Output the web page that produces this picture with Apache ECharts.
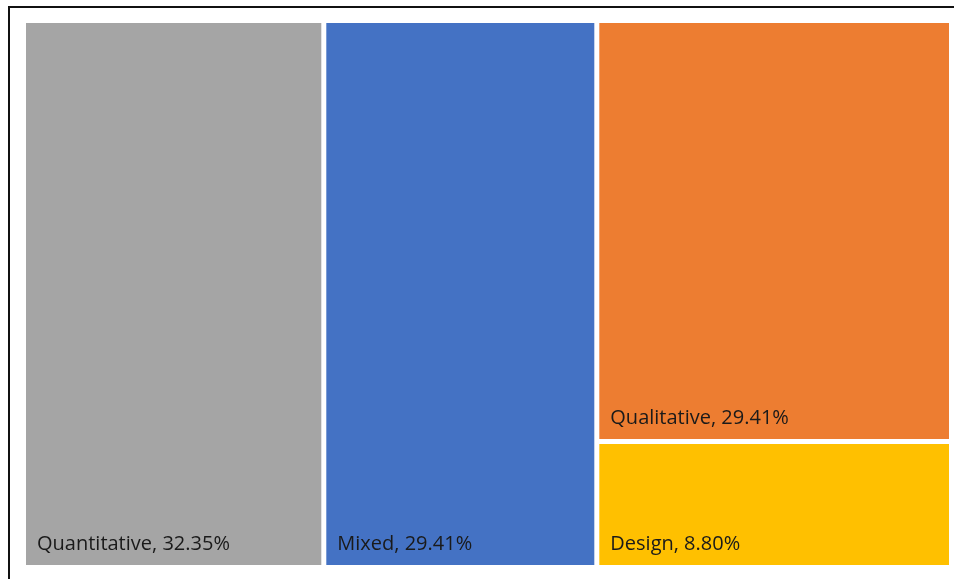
<!DOCTYPE html>
<html>
<head>
<meta charset="utf-8">
<script src="https://cdn.jsdelivr.net/npm/echarts@6/dist/echarts.min.js"></script>
<style>
  html, body { margin: 0; padding: 0; background: #fff; overflow: hidden; }
  #frame { position: absolute; left: 8px; top: 6px; width: 1000px; height: 640px; border-left: 2px solid #111; border-top: 2px solid #111; }
  #chart { position: absolute; left: 0; top: 0; width: 954px; height: 579px; }
</style>
</head>
<body>
<div id="frame"></div>
<div id="chart"></div>
<script>
// 数据
var categories = ['Quantitative', 'Mixed', 'Qualitative', 'Design'];
var shares = [32.35, 29.41, 29.41, 8.80];
var colors = ['#A5A5A5', '#4472C4', '#ED7D31', '#FFC000'];

function leaf(i) {
  return { name: categories[i], value: shares[i], itemStyle: { color: colors[i] } };
}

// 右侧一列：Qualitative + Design
var seriesData = [
  leaf(0),
  leaf(1),
  { name: 'group', children: [leaf(2), leaf(3)] }
];

var chart = echarts.init(document.getElementById('chart'));
chart.setOption({
  animation: false,
  series: [{
    type: 'treemap',
    left: 26,
    top: 23,
    width: 923,
    height: 542,
    roam: false,
    nodeClick: false,
    breadcrumb: { show: false },
    sort: false,
    squareRatio: 1,
    leafDepth: null,
    levels: [
      { itemStyle: { gapWidth: 5, borderWidth: 0 } },
      { itemStyle: { gapWidth: 5, borderWidth: 0 } },
      { itemStyle: { borderWidth: 0 } }
    ],
    upperLabel: { show: false },
    itemStyle: { borderWidth: 0 },
    label: {
      show: true,
      position: 'insideBottomLeft',
      distance: 6,
      fontFamily: 'Open Sans',
      fontSize: 20,
      color: '#1a1a1a',
      formatter: function (p) {
        return p.name + ', ' + p.value.toFixed(2) + '%';
      }
    },
    data: seriesData
  }]
});
</script>
</body>
</html>
